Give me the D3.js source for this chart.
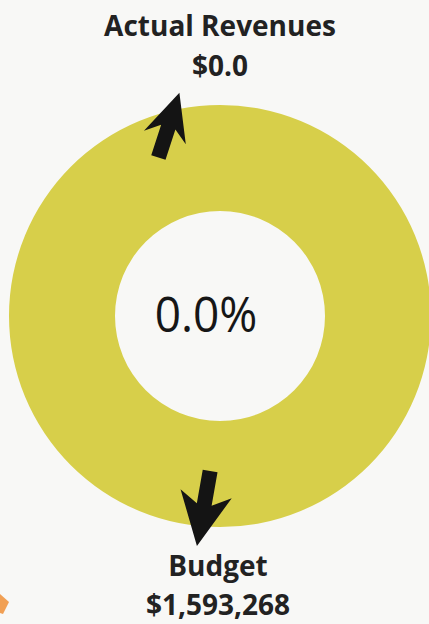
<!DOCTYPE html>
<html>
<head>
<meta charset="utf-8">
<script src="https://cdn.jsdelivr.net/npm/d3@7"></script>
<style>
  html, body { margin: 0; padding: 0; background: #f8f8f6; }
  svg { display: block; }
</style>
</head>
<body>
<div id="chart"></div>
<script>
////////////////////////////////////////////////////////////////
// Data
const labels = ["Actual Revenues", "Budget"];
const values = [0.0, 1593268];
const sliceColors = ["#e8912f", "#d7cf4a"]; // actual, remaining budget

////////////////////////////////////////////////////////////////
// Constants
const width = 429;
const height = 624;
const cx = 220;
const cy = 316;
const outerR = 211;
const innerR = 105;
const font = "'Open Sans', 'Noto Sans', sans-serif";

const actual = values[0];
const budget = values[1];
const pct = actual / budget;

const svg = d3.select("#chart")
  .append("svg")
  .attr("width", width)
  .attr("height", height)
  .attr("viewBox", [0, 0, width, height]);

svg.append("rect")
  .attr("width", width)
  .attr("height", height)
  .attr("fill", "#f8f8f6");

////////////////////////////////////////////////////////////////
// Donut
const pie = d3.pie().sort(null).value(d => d);
const arcs = pie([actual, budget - actual]);
const arc = d3.arc().innerRadius(innerR).outerRadius(outerR);

const g = svg.append("g").attr("transform", `translate(${cx},${cy})`);

g.selectAll("path.slice")
  .data(arcs)
  .join("path")
  .attr("class", "slice")
  .attr("fill", (d, i) => sliceColors[i])
  .attr("d", arc);

// centre percentage (sits a little left of centre in the original)
g.append("text")
  .attr("text-anchor", "middle")
  .attr("transform", "translate(-14,16) scale(1,1.08)")
  .style("font", `400 46px ${font}`)
  .attr("fill", "#161616")
  .text(d3.format(".1%")(pct));

////////////////////////////////////////////////////////////////
// Arrow annotations (cursor-like arrow, tip at origin, pointing up)
const arrowPath = (len, headLen, headHalf, shaftHalf) => {
  const p = d3.path();
  p.moveTo(0, 0);
  p.lineTo(headHalf, headLen + 3);
  p.lineTo(shaftHalf, headLen - 8);
  p.lineTo(shaftHalf, len);
  p.lineTo(-shaftHalf, len);
  p.lineTo(-shaftHalf, headLen - 8);
  p.lineTo(-headHalf, headLen + 3);
  p.closePath();
  return p.toString();
};

// angle measured clockwise from top
const polar = (a, r) => [cx + r * Math.sin(a), cy - r * Math.cos(a)];

const arrows = [
  { angle: arcs[0].startAngle - 0.18, r: outerR * 1.075, rot: 18, len: 68, head: 44, half: 22 },
  { angle: arcs[1].endAngle / 2 + 0.1, r: outerR * 1.095, rot: 190, len: 76, head: 50, half: 26 }
];

svg.append("g")
  .selectAll("path")
  .data(arrows)
  .join("path")
  .attr("fill", "#141414")
  .attr("transform", d => {
    const [x, y] = polar(d.angle, d.r);
    return `translate(${x},${y}) rotate(${d.rot})`;
  })
  .attr("d", d => arrowPath(d.len, d.head, d.half, 7.5));

////////////////////////////////////////////////////////////////
// Labels
const labelG = svg.append("g")
  .attr("text-anchor", "middle")
  .attr("fill", "#222")
  .style("font", `700 28px ${font}`);

labelG.append("text").attr("x", cx).attr("y", 36).text(labels[0]);
labelG.append("text").attr("x", cx).attr("y", 76).text(d3.format("$.1f")(actual));
labelG.append("text").attr("x", cx - 2).attr("y", 576).text(labels[1]);
labelG.append("text").attr("x", cx - 2).attr("y", 615).text(d3.format("$,")(budget));

// scrap of an orange mark at the left edge
svg.append("path")
  .attr("fill", "#ef8a2c")
  .attr("opacity", 0.8)
  .attr("d", "M0,594 L9,602 L3,614 L0,613 Z");
</script>
</body>
</html>
